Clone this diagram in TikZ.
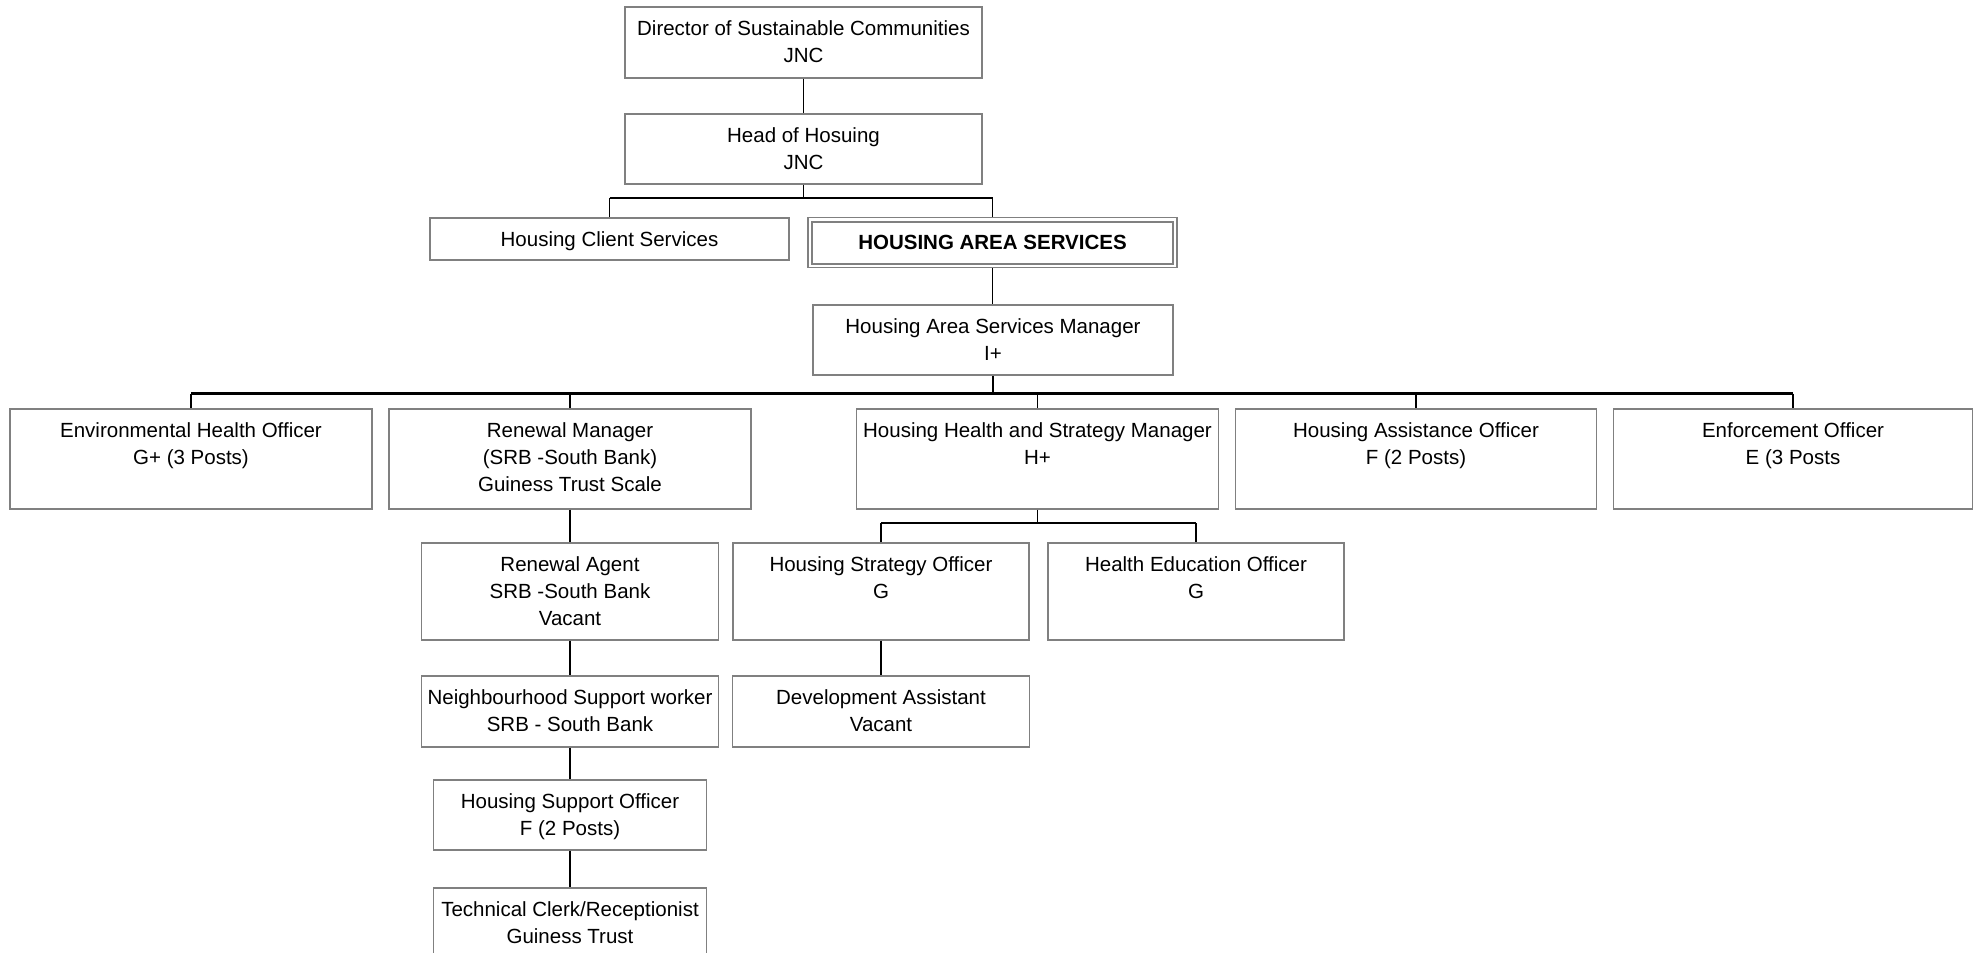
\documentclass[tikz,border=0pt]{standalone}
\usepackage{fontspec}
\setmainfont{Liberation Sans}
\definecolor{bordergray}{RGB}{128,128,128}
\tikzset{
  x=1bp, y=-1bp,
  boxline/.style={draw=bordergray, line width=1.7bp, inner sep=0pt},
  link/.style={line width=1.4bp, draw=black},
  bus/.style={line width=2.3bp, draw=black},
  txt/.style={align=center, inner sep=0pt, font=\fontsize{20.5bp}{27bp}\selectfont},
}
% name, center x, top y, width, height, text
\newcommand\orgbox[6]{%
  \node[boxline, minimum width=#4bp, minimum height=#5bp, anchor=north] (#1) at (#2,#3) {};
  \node[txt, anchor=north] (#1-t) at ([yshift=-14.6bp]#1.north) {#6};%
}
\begin{document}
\begin{tikzpicture}
\useasboundingbox (0,0) rectangle (1975,953);
\clip (0,0) rectangle (1975,953);
\fill[white] (0,0) rectangle (1975,953);

\orgbox{dir}{803.5}{6}{357}{71}{Director of Sustainable Communities\\JNC}
\orgbox{head}{803.5}{113}{357}{70}{Head of Hosuing\\JNC}
\orgbox{client}{609.5}{217}{359}{42}{Housing Client Services}
\node[draw=bordergray, line width=1.4bp, inner sep=0pt, minimum width=369bp, minimum height=50bp, anchor=north] (has) at (992.5,217) {};
\draw[draw=bordergray, line width=2bp] ([shift={(4.6,4.6)}]has.north west) rectangle ([shift={(-4.6,-4.6)}]has.south east);
\node[txt, anchor=north, font=\fontsize{20.5bp}{27bp}\selectfont\bfseries] (has-t) at ([yshift=-17.5bp]has.north) {HOUSING AREA SERVICES};
\orgbox{mgr}{993}{304}{360}{70}{Housing Area Services Manager\\I+}

\orgbox{env}{191}{408}{362}{100}{Environmental Health Officer\\G+ (3 Posts)}
\orgbox{ren}{570}{408}{362}{100}{Renewal Manager\\(SRB -South Bank)\\Guiness Trust Scale}
\orgbox{hhsm}{1037.5}{408}{362}{100}{Housing Health and Strategy Manager\\H+}
\orgbox{hao}{1416}{408}{361}{100}{Housing Assistance Officer\\F (2 Posts)}
\orgbox{enf}{1793}{408}{359}{100}{Enforcement Officer\\E (3 Posts}

\orgbox{ra}{570}{542}{297}{97}{Renewal Agent\\SRB -South Bank\\Vacant}
\orgbox{hso}{881}{542}{296}{97}{Housing Strategy Officer\\G}
\orgbox{heo}{1196}{542}{296}{97}{Health Education Officer\\G}

\orgbox{nsw}{570}{675}{297}{71}{Neighbourhood Support worker\\SRB - South Bank}
\orgbox{da}{881}{675}{297}{71}{Development Assistant\\Vacant}
\orgbox{hsup}{570}{779}{273}{70}{Housing Support Officer\\F (2 Posts)}
\orgbox{tcr}{570}{887}{273}{95}{Technical Clerk/Receptionist\\Guiness Trust}

% bus levels
\coordinate (b1) at (803.5,198);
\coordinate (b2) at (993,393.5);
\coordinate (b3) at (1037.5,523);

% connectors
\draw[link] (dir.south) -- (head.north);
\draw[link] (head.south) -- (head.south |- b1);
\draw[bus] (client.north |- b1) -- (has.north |- b1);
\draw[link] (client.north |- b1) -- (client.north);
\draw[link] (has.north |- b1) -- (has.north);
\draw[link] (has.south) -- (has.south |- mgr.north);

\draw[link] (mgr.south) -- (mgr.south |- b2);
\draw[bus] (env.north |- b2) -- (enf.north |- b2);
\foreach \n in {env,ren,hhsm,hao,enf}
  \draw[link] (\n.north |- b2) -- (\n.north);

\draw[link] (hhsm.south) -- (hhsm.south |- b3);
\draw[bus] (hso.north |- b3) -- (heo.north |- b3);
\draw[link] (hso.north |- b3) -- (hso.north);
\draw[link] (heo.north |- b3) -- (heo.north);

\draw[link] (ren.south) -- (ra.north);
\draw[link] (ra.south) -- (nsw.north);
\draw[link] (nsw.south) -- (hsup.north);
\draw[link] (hsup.south) -- (tcr.north);
\draw[link] (hso.south) -- (da.north);
\end{tikzpicture}
\end{document}
